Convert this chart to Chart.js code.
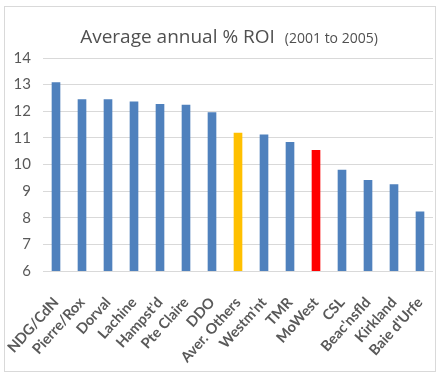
<!DOCTYPE html>
<html>
<head>
<meta charset="utf-8">
<script src="https://cdn.jsdelivr.net/npm/chart.js@4"></script>
<style>
  body { margin: 0; background: #fff; }
  #wrap { position: relative; width: 438px; height: 374px; }
  #frame { position: absolute; left: 4px; top: 6px; width: 432px; height: 366px; border: 1px solid #d9d9d9; box-sizing: border-box; }
  #title { position: absolute; left: 10px; width: 438px; top: 23px; text-align: center; color: #505050; font-family: 'Open Sans', sans-serif; white-space: nowrap; }
  #title .main { font-size: 19px; }
  #title .sub { font-size: 14px; margin-left: 10px; }
  canvas { position: absolute; left: 0; top: 0; }
</style>
</head>
<body>
<div id="wrap">
  <div id="frame"></div>
  <canvas id="chart" width="438" height="374"></canvas>
  <div id="title"><span class="main">Average annual % ROI</span><span class="sub">(2001 to 2005)</span></div>
</div>
<script>
const categories = ['NDG/CdN', 'Pierre/Rox', 'Dorval', 'Lachine', "Hampst'd", 'Pte Claire', 'DDO',
  'Aver. Others', "Westm'nt", 'TMR', 'MoWest', 'CSL', "Beac'nsfld", 'Kirkland', "Baie d'Urfe"];
const roi = [13.08, 12.44, 12.44, 12.35, 12.26, 12.23, 11.95, 11.18, 11.11, 10.83, 10.53, 9.79, 9.41, 9.25, 8.22];
const highlight = { 'Aver. Others': '#ffc000', 'MoWest': '#ff0000' };

const barColors = categories.map((c) => highlight[c] || '#4f81bd');

new Chart(document.getElementById('chart').getContext('2d'), {
  type: 'bar',
  data: {
    labels: categories,
    datasets: [{
      data: roi,
      backgroundColor: barColors,
      barThickness: 8,
    }],
  },
  options: {
    responsive: false,
    animation: false,
    layout: { padding: { top: 58, right: 5, left: 0, bottom: 0 } },
    plugins: { legend: { display: false }, tooltip: { enabled: false } },
    scales: {
      x: {
        grid: { display: false },
        border: { display: false },
        ticks: {
          autoSkip: false,
          minRotation: 48,
          maxRotation: 48,
          color: '#595959',
          font: { family: 'Lato', size: 14.5, weight: 'bold' },
          padding: 15,
        },
        afterFit: (axis) => {
          axis.height = 103;
          axis.paddingLeft = 0;
          axis.paddingRight = 0;
        },
      },
      y: {
        min: 6,
        max: 14,
        border: { display: false },
        grid: { color: '#d9d9d9', lineWidth: 1, drawTicks: false },
        ticks: {
          stepSize: 1,
          color: '#595959',
          font: { family: 'Lato', size: 15 },
          padding: 12,
        },
        afterFit: (axis) => { axis.width = 43; },
      },
    },
  },
});
</script>
</body>
</html>
